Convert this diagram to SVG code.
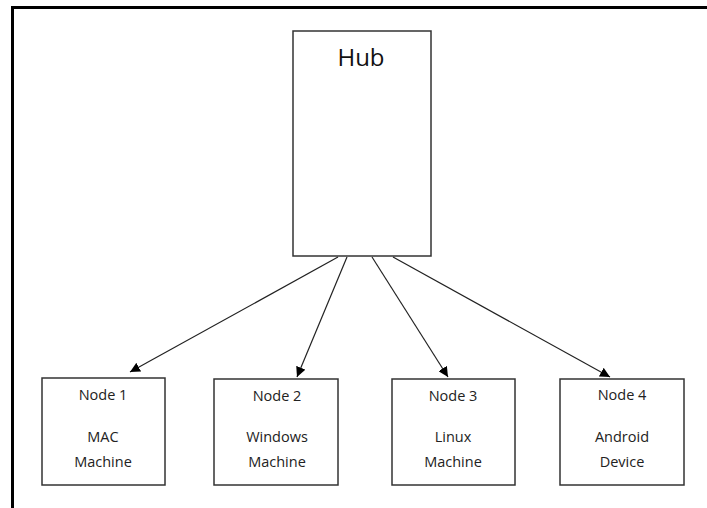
<svg xmlns="http://www.w3.org/2000/svg" width="707" height="508" viewBox="0 0 707 508">
<defs>
<marker id="ah" viewBox="0 0 10 10" refX="10" refY="5" markerWidth="10" markerHeight="10" markerUnits="userSpaceOnUse" orient="auto">
<path d="M0,0 L10,5 L0,10 z" fill="#000"/>
</marker>
<style>
.box{fill:#fff;stroke:#333;stroke-width:1.5}
.t{font-family:"Open Sans","Liberation Sans",sans-serif;font-size:14.5px;fill:#222;text-anchor:middle}
.hub{font-family:"Open Sans","Liberation Sans",sans-serif;font-size:24px;fill:#111;text-anchor:middle}
.c{stroke:#222;stroke-width:1.2;fill:none;marker-end:url(#ah)}
</style>
</defs>
<rect width="707" height="508" fill="#fff"/>
<g id="frame"><path d="M12.5,508 V7.5 H707" fill="none" stroke="#000" stroke-width="3"/></g>
<g id="hub"><rect class="box" x="293" y="31" width="138" height="225"/><text class="hub" x="361" y="66">Hub</text></g>
<g id="node1"><rect class="box" x="42" y="378" width="123" height="107"/><text class="t" x="103" y="400">Node 1</text><text class="t" x="103" y="442">MAC</text><text class="t" x="103" y="467">Machine</text></g>
<g id="node2"><rect class="box" x="214" y="379" width="124" height="106"/><text class="t" x="277" y="401">Node 2</text><text class="t" x="277" y="442">Windows</text><text class="t" x="277" y="467">Machine</text></g>
<g id="node3"><rect class="box" x="392" y="379" width="123" height="106"/><text class="t" x="453" y="401">Node 3</text><text class="t" x="453" y="442">Linux</text><text class="t" x="453" y="467">Machine</text></g>
<g id="node4"><rect class="box" x="560" y="379" width="124" height="106"/><text class="t" x="622" y="400">Node 4</text><text class="t" x="622" y="442">Android</text><text class="t" x="622" y="467">Device</text></g>
<g id="connectors">
<line class="c" x1="338" y1="257" x2="130" y2="372"/>
<line class="c" x1="347" y1="257" x2="297" y2="377"/>
<line class="c" x1="372" y1="257" x2="448" y2="377"/>
<line class="c" x1="393" y1="257" x2="610" y2="377"/>
</g>
</svg>
